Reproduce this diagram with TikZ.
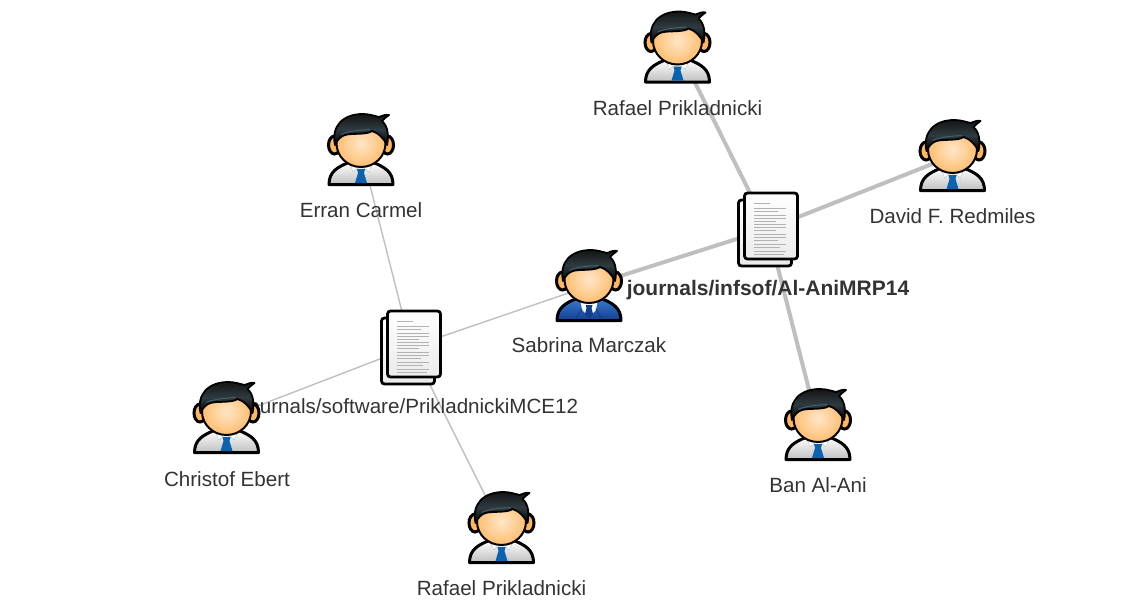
\documentclass[tikz,border=0pt]{standalone}
\usepackage{fontspec}
\setmainfont{Liberation Sans}
\usetikzlibrary{backgrounds}
\definecolor{edgegray}{HTML}{BFBFBF}
\definecolor{labelgray}{HTML}{333333}
\definecolor{facein}{HTML}{FFE6C8}
\definecolor{faceout}{HTML}{FFBE70}
\definecolor{earcol}{HTML}{FFB860}
\definecolor{tieblue}{HTML}{0B62AE}
\definecolor{jackettop}{HTML}{3A7BD0}
\definecolor{jacketbot}{HTML}{123F8C}
\definecolor{hairmid}{HTML}{2F3B40}
\newcommand{\whitebody}{%
  \draw[line width=3,top color=white,bottom color=black!25,draw=black,line join=round]
    (-32,34.5) .. controls (-32,22) and (-24,17) .. (-11,12) -- (11,12) .. controls (24,17) and (32,22) .. (32,34.5) -- cycle;
  \fill[white] (-11,12) -- (-9,22) -- (-2,18) -- (2,18) -- (9,22) -- (11,12) -- cycle;
  \draw[black!25,line width=.5] (-11,14) -- (-8,22) -- (-3,18) (11,14) -- (8,22) -- (3,18);
  \fill[tieblue] (-4,19) -- (4,19) -- (3,23) -- (6,33) -- (-6,33) -- (-3,23) -- cycle;
}
\newcommand{\bluebody}{%
  \draw[line width=3,top color=jackettop,bottom color=jacketbot,draw=black,line join=round]
    (-32,34.5) .. controls (-32,22) and (-24,17) .. (-11,12) -- (11,12) .. controls (24,17) and (32,22) .. (32,34.5) -- cycle;
  \fill[white] (-9,12) -- (-7,24) -- (0,31) -- (7,24) -- (9,12) -- cycle;
  \fill[jacketbot] (-3.5,19) -- (3.5,19) -- (2.5,22) -- (4,28) -- (0,33) -- (-4,28) -- (-2.5,22) -- cycle;
  \draw[jacketbot,line width=1] (-13,33) -- (-7,23) (13,33) -- (7,23);
}
\newcommand{\headpart}{%
  \draw[line width=3,draw=black,fill=earcol] (-26.5,-5) ellipse [x radius=6,y radius=9];
  \draw[line width=3,draw=black,fill=earcol] (26.5,-5) ellipse [x radius=6,y radius=9];
  \draw[line width=2,draw=black,inner color=facein,outer color=faceout] (0,-6.5) ellipse [x radius=24.5,y radius=23.5];
  \draw[line width=1.8,draw=black,top color=black!92,bottom color=black,middle color=hairmid,line join=round]
    (-26,-5) .. controls (-30,-24) and (-18,-36) .. (2,-36)
    .. controls (8,-36) and (14,-34) .. (18,-33) .. controls (21,-34) and (25,-36) .. (28,-35)
    .. controls (25,-33) and (23,-31) .. (21,-29)
    .. controls (27,-24) and (28,-14) .. (26,-5)
    .. controls (23,-11) and (18,-17) .. (11,-19)
    .. controls (6,-15) and (-10,-17) .. (-16,-15)
    .. controls (-20,-14) and (-24,-10) .. (-26,-5) -- cycle;
  \draw[line width=.9,cyan!35!black] (-20,-15.5) .. controls (-12,-19.5) and (2,-20) .. (9,-20.5);
}
\newcommand{\pagesheet}[2]{%
  \draw[line width=2.8,draw=black,rounded corners=3,top color=white,bottom color=black!8]
    (#1-26.5,#2-33) rectangle (#1+26.5,#2+33);
}
\tikzset{
  x=1pt,y=-1pt,
  pics/person/.style={code={#1\headpart}},
  pics/document/.style={code={
    \pagesheet{-3}{4}
    \pagesheet{3}{-3}
    \foreach \yy/\xx in {-26/2,-21/18,-18/10,-14/18,-11/18,-8/8,-5/18,-2/18,1/8,5/18,8/18,11/10,15/18,18/12,22/18,25/16}
      \draw[line width=.4,black!30] (-14,\yy) -- (\xx,\yy);
  }},
  anchorpt/.style={inner sep=0,minimum size=1pt},
  namelabel/.style={text=labelgray,font=\fontsize{20.6}{22}\selectfont,inner sep=0,anchor=center},
  boldlabel/.style={namelabel,font=\fontsize{21}{23}\selectfont\bfseries},
  heavyedge/.style={edgegray,line width=4},
  lightedge/.style={edgegray,line width=1.4},
}
\begin{document}
\begin{tikzpicture}
\useasboundingbox (0,0) rectangle (1146,600);
% anchors
\node[anchorpt] (rp1) at (677.5,47.5) {};
\node[anchorpt] (ec) at (361,150) {};
\node[anchorpt] (dr) at (952.5,156) {};
\node[anchorpt] (sm) at (589,286) {};
\node[anchorpt] (ce) at (226.5,418) {};
\node[anchorpt] (rp2) at (501.5,528) {};
\node[anchorpt] (ba) at (818,425) {};
\node[anchorpt] (d1) at (768,229) {};
\node[anchorpt] (d2) at (411,347) {};
% labels
\node[namelabel] (lrp1) at (677.5,108) {Rafael Prikladnicki};
\node[namelabel] (lec) at (361,210) {Erran Carmel};
\node[namelabel] (ldr) at (952.5,216) {David F. Redmiles};
\node[namelabel] (lsm) at (589,345.5) {Sabrina Marczak};
\node[namelabel] (lce) at (227,479) {Christof Ebert};
\node[namelabel] (lrp2) at (501.5,588) {Rafael Prikladnicki};
\node[namelabel] (lba) at (818,485) {Ban Al-Ani};
\node[boldlabel] (ld1) at (768,290) {journals/infsof/Al-AniMRP14};
\node[namelabel] (ld2) at (411,408) {journals/software/PrikladnickiMCE12};
% connectors
\begin{scope}[on background layer]
\draw[heavyedge] (rp1.center) -- (d1.center);
\draw[heavyedge] (dr.center) -- (d1.center);
\draw[heavyedge] (sm.center) -- (d1.center);
\draw[heavyedge] (ba.center) -- (d1.center);
\draw[lightedge] (ec.center) -- (d2.center);
\draw[lightedge] (sm.center) -- (d2.center);
\draw[lightedge] (ce.center) -- (d2.center);
\draw[lightedge] (rp2.center) -- (d2.center);
\end{scope}
% icons
\pic at (rp1) {person=\whitebody};
\pic at (ec) {person=\whitebody};
\pic at (dr) {person=\whitebody};
\pic at (sm) {person=\bluebody};
\pic at (ce) {person=\whitebody};
\pic at (rp2) {person=\whitebody};
\pic at (ba) {person=\whitebody};
\pic at (d1) {document};
\pic at (d2) {document};
\end{tikzpicture}
\end{document}
